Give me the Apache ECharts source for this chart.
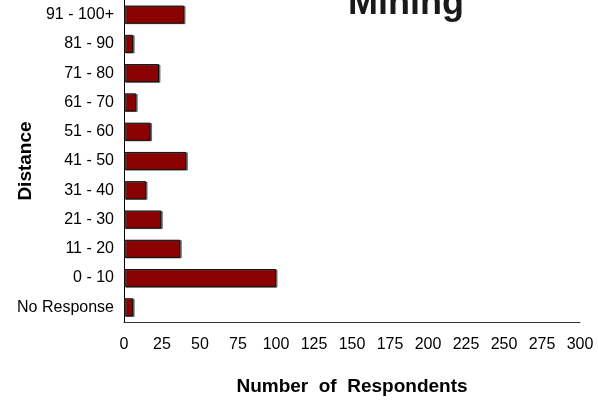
<!DOCTYPE html>
<html>
<head>
<meta charset="utf-8">
<script src="https://cdn.jsdelivr.net/npm/echarts@6/dist/echarts.min.js"></script>
<style>html,body{margin:0;padding:0;background:#fff}#c{width:598px;height:400px}</style>
</head>
<body>
<div id="c"></div>
<script>
var categories = ['No Response', '0 - 10', '11 - 20', '21 - 30', '31 - 40', '41 - 50', '51 - 60', '61 - 70', '71 - 80', '81 - 90', '91 - 100+'];
var respondents = [6, 100, 37, 24.5, 14.5, 41, 17.5, 8, 23, 6, 39.5];
var xTicks = [0, 25, 50, 75, 100, 125, 150, 175, 200, 225, 250, 275, 300];

var FONT = 'Liberation Sans, Arial, sans-serif';
var chart = echarts.init(document.getElementById('c'), null, {renderer: 'canvas'});
chart.setOption({
  animation: false,
  backgroundColor: '#fff',
  title: {
    text: 'Mining',
    left: 401,
    top: -19,
    textAlign: 'center',
    textStyle: {fontFamily: FONT, fontSize: 36, fontWeight: 'bold', color: '#1a1a1a'}
  },
  grid: {left: 124, right: 18, top: 0, bottom: 78, containLabel: false, outerBoundsMode: 'none'},
  xAxis: {
    type: 'value',
    min: xTicks[0],
    max: xTicks[xTicks.length - 1],
    interval: 25,
    name: 'Number  of  Respondents',
    nameLocation: 'middle',
    nameGap: 55,
    nameMoveOverlap: false,
    nameTextStyle: {fontFamily: FONT, fontSize: 19, fontWeight: 'bold', color: '#000'},
    axisLine: {show: true, lineStyle: {color: '#333', width: 1}},
    axisTick: {show: false},
    splitLine: {show: false},
    axisLabel: {margin: 15, fontFamily: FONT, fontSize: 16, color: '#000'}
  },
  yAxis: {
    type: 'category',
    data: categories,
    name: 'Distance',
    nameLocation: 'middle',
    nameGap: 89,
    nameMoveOverlap: false,
    nameRotate: 90,
    nameTextStyle: {fontFamily: FONT, fontSize: 19, fontWeight: 'bold', color: '#000'},
    axisLine: {show: true, lineStyle: {color: '#000', width: 1}},
    axisTick: {show: false},
    splitLine: {show: false},
    axisLabel: {margin: 10, fontFamily: FONT, fontSize: 16, color: '#000'}
  },
  series: [{
    type: 'bar',
    data: respondents,
    barCategoryGap: '38%',
    itemStyle: {
      color: '#8b0000',
      borderColor: '#111',
      borderWidth: 1,
      shadowColor: 'rgba(80,80,80,0.8)',
      shadowOffsetX: 1.5,
      shadowOffsetY: 0.5,
      shadowBlur: 0
    }
  }]
});
</script>
</body>
</html>
